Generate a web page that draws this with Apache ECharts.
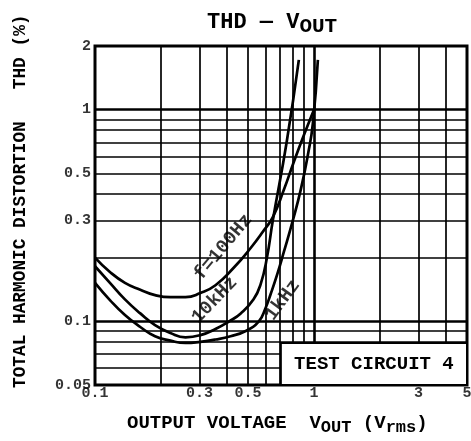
<!DOCTYPE html>
<html>
<head>
<meta charset="utf-8">
<script src="https://cdn.jsdelivr.net/npm/echarts@6/dist/echarts.min.js"></script>
<style>html,body{margin:0;padding:0;background:#fff}#main{width:471px;height:441px}</style>
</head>
<body>
<div id="main"></div>
<script>
var font = 'Liberation Mono';

// curve data: [Vout (Vrms), THD (%)]
var thd100Hz = [[0.1,0.2],[0.117,0.171],[0.137,0.152],[0.161,0.141],[0.188,0.133],[0.221,0.13],[0.259,0.13],[0.303,0.136],[0.355,0.148],[0.43,0.179],[0.514,0.222],[0.583,0.264],[0.649,0.311],[0.728,0.417],[0.809,0.566],[0.9,0.759],[1.0,1.0]];
var thd10kHz = [[0.1,0.182],[0.117,0.152],[0.137,0.127],[0.161,0.109],[0.188,0.096],[0.221,0.088],[0.259,0.084],[0.303,0.086],[0.355,0.092],[0.41,0.1],[0.463,0.109],[0.53,0.127],[0.571,0.15],[0.61,0.2],[0.649,0.3],[0.75,0.7],[0.853,1.72]];
var thd1kHz = [[0.1,0.152],[0.117,0.126],[0.137,0.107],[0.161,0.094],[0.188,0.085],[0.221,0.081],[0.259,0.079],[0.303,0.08],[0.355,0.082],[0.416,0.085],[0.488,0.09],[0.56,0.1],[0.6,0.115],[0.635,0.135],[0.68,0.167],[0.728,0.212],[0.801,0.3],[0.871,0.42],[0.938,0.611],[0.989,0.865],[1.042,1.72]];

// tick labels
var xTickValues = [0.1, 0.3, 0.5, 1, 3, 5];
var xTickLabels = ['0.1', '0.3', '0.5', '1', '3', '5'];
var yTickValues = [0.05, 0.1, 0.3, 0.5, 1, 2];
var yTickLabels = ['0.05', '0.1', '0.3', '0.5', '1', '2'];

// grid lines
var xGridMinor = [0.2, 0.3, 0.4, 0.5, 0.6, 0.7, 0.8, 0.9, 2, 3, 4];
var xGridMajor = [1];
var yGridMinor = [0.06, 0.07, 0.08, 0.09, 0.2, 0.3, 0.4, 0.5, 0.6, 0.7, 0.8, 0.9];
var yGridMajor = [0.1, 1];

// curve names
var curveNames = ['f=100Hz', '10kHz', '1kHz'];
var curveLabelAt = [[0.386, 0.2245], [0.352, 0.126], [0.721, 0.126]];
var curveLabelAngle = [50, 46, 54];

var myChart = echarts.init(document.getElementById('main'));

var gridLines = [];
xGridMinor.forEach(function (v) { gridLines.push({ xAxis: v }); });
yGridMinor.forEach(function (v) { gridLines.push({ yAxis: v }); });
xGridMajor.forEach(function (v) { gridLines.push({ xAxis: v, lineStyle: { width: 2.6 } }); });
yGridMajor.forEach(function (v) { gridLines.push({ yAxis: v, lineStyle: { width: 2.6 } }); });

function curve(name, data) {
    return {
        name: name,
        type: 'line',
        data: data,
        smooth: 0.5,
        showSymbol: false,
        z: 3,
        lineStyle: { color: '#000', width: 2.7 }
    };
}

function txt(size) {
    return { color: '#000', fontFamily: font, fontWeight: 'bold', fontSize: size };
}

var option = {
    animation: false,
    grid: { left: 95, right: 4, top: 46, bottom: 56, show: true, borderColor: '#000', borderWidth: 3 },
    xAxis: {
        type: 'log', logBase: 10, min: 0.1, max: 5,
        axisLine: { show: false }, axisTick: { show: false }, axisLabel: { show: false }, splitLine: { show: false }
    },
    yAxis: {
        type: 'log', logBase: 10, min: 0.05, max: 2,
        axisLine: { show: false }, axisTick: { show: false }, axisLabel: { show: false }, splitLine: { show: false }
    },
    graphic: [
        {
            type: 'text', x: 207, y: 7,
            style: {
                text: 'THD — V{sub|OUT}', fill: '#000',
                font: 'bold 22px ' + font,
                rich: { sub: { font: 'bold 21px ' + font, padding: [9, 0, 0, 0] } }
            }
        },
        {
            type: 'text', x: 127, y: 411,
            style: {
                text: 'OUTPUT VOLTAGE  V{sub|OUT} (V{sub|rms})', fill: '#000',
                font: 'bold 19px ' + font,
                rich: { sub: { font: 'bold 17px ' + font, padding: [8, 0, 0, 0] } }
            }
        },
        {
            type: 'text', x: 12, y: 388, rotation: Math.PI / 2,
            style: {
                text: 'TOTAL HARMONIC DISTORTION   THD (%)', fill: '#000',
                font: 'bold 17.8px ' + font
            }
        }
    ],
    series: [
        {
            type: 'line', data: [], silent: true,
            markLine: {
                z: 1, silent: true, symbol: ['none', 'none'], animation: false,
                label: { show: false },
                lineStyle: { type: 'solid', color: '#000', width: 1.7 },
                data: gridLines
            },
            markArea: {
                z: 6, silent: true,
                itemStyle: { color: '#fff', borderColor: '#000', borderWidth: 2 },
                label: Object.assign({ show: true, position: 'inside' }, txt(19)),
                data: [[{ name: 'TEST CIRCUIT 4', xAxis: 0.706, yAxis: 0.079 }, { xAxis: 5, yAxis: 0.05 }]]
            }
        },
        curve(curveNames[0], thd100Hz),
        curve(curveNames[1], thd10kHz),
        curve(curveNames[2], thd1kHz),
        {
            type: 'scatter', symbolSize: 0, clip: false, silent: true, z: 7,
            data: curveNames.map(function (n, i) {
                return { name: n, value: curveLabelAt[i], label: { rotate: curveLabelAngle[i] } };
            }),
            label: Object.assign({ show: true, position: 'inside', formatter: '{b}' }, txt(19))
        },
        {
            type: 'scatter', symbolSize: 0, clip: false, silent: true,
            data: xTickValues.map(function (v, i) { return { name: xTickLabels[i], value: [v, 0.05] }; }),
            label: Object.assign({ show: true, position: 'bottom', distance: 1, formatter: '{b}' }, txt(15))
        },
        {
            type: 'scatter', symbolSize: 0, clip: false, silent: true,
            data: yTickValues.map(function (v, i) { return { name: yTickLabels[i], value: [0.1, v] }; }),
            label: Object.assign({ show: true, position: 'left', distance: 4, formatter: '{b}' }, txt(15))
        }
    ]
};

myChart.setOption(option);
</script>
</body>
</html>
